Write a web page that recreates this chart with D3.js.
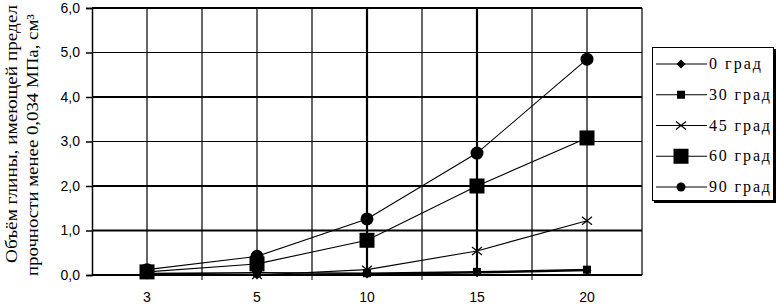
<!doctype html>
<html>
<head>
<meta charset="utf-8">
<script src="https://cdnjs.cloudflare.com/ajax/libs/d3/7.8.5/d3.min.js"></script>
<style>
  body { margin: 0; background: #fff; }
  svg { display: block; }
</style>
</head>
<body>
<div id="root"></div>
<script>
// categories (x) and series
const categories = ["3", "5", "10", "15", "20"];
const seriesNames = ["0 град", "30 град", "45 град", "60 град", "90 град"];
const values0 = [0.0, 0.0, 0.02, 0.05, 0.1];
const values30 = [0.03, 0.05, 0.04, 0.07, 0.12];
const values45 = [0.02, 0.0, 0.12, 0.54, 1.22];
const values60 = [0.07, 0.25, 0.78, 2.0, 3.08];
const values90 = [0.12, 0.42, 1.26, 2.74, 4.85];
const yTicks = [0, 1, 2, 3, 4, 5, 6];

const allValues = [values0, values30, values45, values60, values90];
const markers = ["diamond", "smallSquare", "cross", "bigSquare", "circle"];

const W = 777, H = 306;
const plot = {left: 92, right: 642, top: 8, bottom: 275};
const serif = "Liberation Serif, Times New Roman, serif";

const svg = d3.select("#root").append("svg")
  .attr("width", W).attr("height", H);

const x = d3.scaleBand().domain(categories).range([plot.left, plot.right]).padding(0);
const cx = d => x(d) + x.bandwidth() / 2;
const y = d3.scaleLinear().domain([0, 6]).range([plot.bottom, plot.top]);

// horizontal gridlines (some drawn heavier like the scan)
const heavyY = [0, 1, 2, 4, 6];
svg.append("g").selectAll("line").data(yTicks).join("line")
  .attr("x1", plot.left).attr("x2", plot.right)
  .attr("y1", d => y(d)).attr("y2", d => y(d))
  .attr("stroke", "#000")
  .attr("stroke-width", d => heavyY.includes(d) ? 2 : 1.2);

// vertical gridlines: band edges and centers
const vx = [];
categories.forEach((c, i) => { if (i > 0) vx.push({v: x(c), heavy: false}); vx.push({v: cx(c), heavy: c === "10" || c === "15"}); });
svg.append("g").selectAll("line").data(vx).join("line")
  .attr("x1", d => d.v).attr("x2", d => d.v)
  .attr("y1", plot.top).attr("y2", plot.bottom)
  .attr("stroke", "#000")
  .attr("stroke-width", d => d.heavy ? 2.2 : 1.2);

// right border
svg.append("line")
  .attr("x1", plot.right).attr("x2", plot.right)
  .attr("y1", plot.top).attr("y2", plot.bottom)
  .attr("stroke", "#000").attr("stroke-width", 1.2);

// y axis
const yAxis = d3.axisLeft(y).tickValues(yTicks).tickSize(6).tickPadding(6)
  .tickFormat(d => d3.format(".1f")(d).replace(".", ","));
const gy = svg.append("g").attr("transform", `translate(${plot.left},0)`).call(yAxis);
gy.select(".domain").attr("stroke", "#000").attr("stroke-width", 1.5);
gy.selectAll(".tick line").attr("stroke-width", 1.5);
gy.selectAll("text").attr("font-family", "Liberation Sans, Arial, sans-serif")
  .attr("font-size", 14).attr("fill", "#000");

// x axis
const xAxis = d3.axisBottom(x).tickSize(0).tickPadding(17);
const gx = svg.append("g").attr("transform", `translate(0,${plot.bottom})`).call(xAxis);
gx.select(".domain").remove();
gx.selectAll("text").attr("font-family", "Liberation Sans, Arial, sans-serif")
  .attr("font-size", 14).attr("fill", "#000");
// small ticks at band edges
svg.append("g").selectAll("line").data(categories.slice(1)).join("line")
  .attr("x1", d => x(d)).attr("x2", d => x(d))
  .attr("y1", plot.bottom).attr("y2", plot.bottom + 5)
  .attr("stroke", "#000").attr("stroke-width", 1);

// y axis title
svg.append("text")
  .attr("transform", "translate(17,134) rotate(-90)")
  .attr("text-anchor", "middle")
  .attr("font-family", serif)
  .attr("font-size", 16)
  .attr("textLength", 258).attr("lengthAdjust", "spacingAndGlyphs")
  .text("Объём глины, имеющей предел");
svg.append("text")
  .attr("transform", "translate(38,145) rotate(-90)")
  .attr("text-anchor", "middle")
  .attr("font-family", serif)
  .attr("font-size", 16)
  .attr("textLength", 262).attr("lengthAdjust", "spacingAndGlyphs")
  .text("прочности менее 0,034 МПа, см³");

// marker drawing
function drawMarker(g, type, small) {
  if (type === "diamond") {
    g.append("path").attr("d", "M0,-4.5L4.5,0L0,4.5L-4.5,0Z").attr("fill", "#000");
  } else if (type === "smallSquare") {
    g.append("rect").attr("x", -4).attr("y", -4).attr("width", 8).attr("height", 8).attr("fill", "#000");
  } else if (type === "cross") {
    g.append("path").attr("d", "M-5,-4L5,4M-5,4L5,-4").attr("stroke", "#000").attr("stroke-width", 1.2);
  } else if (type === "bigSquare") {
    g.append("rect").attr("x", -7.5).attr("y", -7.5).attr("width", 15).attr("height", 15).attr("fill", "#000");
  } else if (type === "circle") {
    g.append("circle").attr("r", small ? 4.5 : 6.5).attr("fill", "#000");
  }
}

const line = d3.line().x(d => cx(d.c)).y(d => y(d.v));
allValues.forEach((vals, si) => {
  const pts = categories.map((c, i) => ({c: c, v: vals[i]}));
  svg.append("path").datum(pts)
    .attr("d", line).attr("fill", "none")
    .attr("stroke", "#000").attr("stroke-width", si < 2 ? 1.6 : 1.1);
  pts.forEach(p => {
    const g = svg.append("g").attr("transform", `translate(${cx(p.c)},${y(p.v)})`);
    drawMarker(g, markers[si], false);
  });
});

// legend
const lg = svg.append("g");
lg.append("rect").attr("x", 654).attr("y", 49).attr("width", 122).attr("height", 154).attr("fill", "#000");
lg.append("rect").attr("x", 652.5).attr("y", 47.5).attr("width", 121).attr("height", 153)
  .attr("fill", "#fff").attr("stroke", "#000").attr("stroke-width", 1);
const legendY = d3.scalePoint().domain(seriesNames).range([64, 187]);
seriesNames.forEach((name, i) => {
  const ly = legendY(name);
  lg.append("line").attr("x1", 656).attr("x2", 707).attr("y1", ly).attr("y2", ly)
    .attr("stroke", "#000").attr("stroke-width", 1.2);
  drawMarker(lg.append("g").attr("transform", `translate(681,${ly})`), markers[i], true);
  lg.append("text").attr("x", 709).attr("y", ly + 5)
    .attr("font-family", serif)
    .attr("font-size", 16).attr("fill", "#000")
    .attr("textLength", i === 0 ? 52 : 61).attr("lengthAdjust", "spacing")
    .text(name);
});
</script>
</body>
</html>
